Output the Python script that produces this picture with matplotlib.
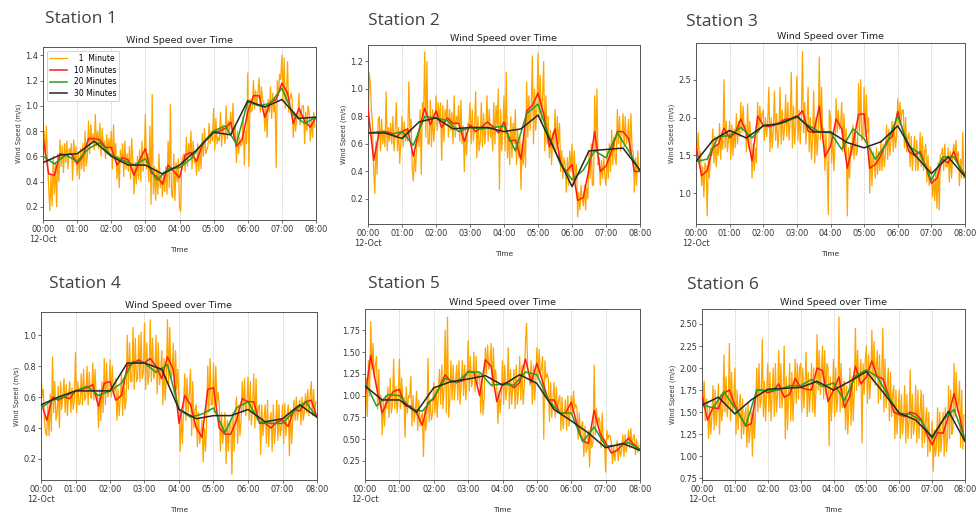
import numpy as np
import matplotlib
matplotlib.use("Agg")
import matplotlib.pyplot as plt
import matplotlib.dates as mdates
from matplotlib.ticker import MultipleLocator, FuncFormatter

# ---------------- data ----------------
stations = ["Station 1", "Station 2", "Station 3", "Station 4", "Station 5", "Station 6"]
series_labels = ["  1  Minute", "10 Minutes", "20 Minutes", "30 Minutes"]
start_time = "2022-10-12T00:00"
step_minutes = [2, 10, 20, 30]

s1_1min = [0.72,0.80,0.60,0.84,0.55, 0.35,0.17,0.45,0.21,0.60,
           0.30,0.55,0.20,0.62,0.40, 0.73,0.52,0.68,0.47,0.70,
           0.55,0.72,0.50,0.66,0.62, 0.70,0.41,0.73,0.55,0.68,
           0.45,0.63,0.42,0.66,0.50, 0.70,0.48,0.80,0.52,0.60,
           0.88,0.62,0.85,0.70,0.78, 0.65,0.93,0.68,0.80,0.66,
           0.86,0.60,0.82,0.66,0.72, 0.58,0.77,0.62,0.74,0.64,
           0.80,0.50,0.85,0.58,0.70, 0.42,0.60,0.35,0.65,0.55,
           0.70,0.44,0.72,0.50,0.62, 0.48,0.68,0.42,0.74,0.55,
           0.30,0.55,0.38,0.60,0.42, 0.65,0.40,0.72,0.48,0.58,
           0.93,0.50,0.62,0.40,0.84, 0.22,1.09,0.30,0.52,0.25,
           0.50,0.30,0.62,0.35,0.45, 0.28,0.48,0.32,0.52,0.30,
           0.72,0.35,1.01,0.30,0.27, 0.62,0.25,0.55,0.40,0.58,
           0.20,0.16,0.55,0.60,0.62, 0.48,0.75,0.52,0.70,0.60,
           0.80,0.50,0.72,0.55,0.58, 0.45,0.70,0.48,0.66,0.50,
           0.78,0.60,0.82,0.62,0.65, 0.68,0.86,0.70,0.80,0.72,
           0.98,0.65,0.90,0.70,0.75, 0.72,0.95,0.68,0.85,0.78,
           0.70,1.00,0.74,0.88,0.80, 0.95,0.78,1.02,0.75,0.85,
           0.55,0.80,0.62,0.75,0.68, 0.70,0.92,0.53,0.80,0.70,
           1.26,0.52,1.05,0.95,0.97, 1.20,0.98,1.12,1.00,1.10,
           1.22,0.95,1.15,1.05,1.03, 0.80,1.00,0.75,1.05,0.95,
           1.15,0.90,1.10,0.95,1.05, 0.51,1.20,1.08,1.25,1.21,
           1.40,1.05,1.38,0.98,1.09, 1.35,0.95,1.05,1.10,1.05,
           0.75,0.95,0.80,0.90,0.90, 1.10,0.85,0.95,1.00,1.00,
           0.70,0.95,0.80,1.00,0.95, 0.72,0.90,0.75,0.95,0.83]
s1_10min = [0.75,0.46,0.45,0.62,0.61,0.62, 0.54,0.60,0.74,0.74,0.73,0.67,
            0.67,0.53,0.59,0.57,0.45,0.57, 0.66,0.47,0.44,0.38,0.53,0.48,
            0.43,0.61,0.63,0.56,0.69,0.75, 0.79,0.80,0.82,0.87,0.68,0.73,
            0.95,1.08,1.08,0.91,1.03,1.05, 1.18,1.10,0.86,0.98,0.88,0.83, 0.91]
s1_20min = [0.60,0.54,0.61, 0.56,0.66,0.71, 0.61,0.57,0.53, 0.58,0.41,0.50,
            0.51,0.58,0.70, 0.80,0.84,0.70, 1.03,1.00,1.02, 1.14,0.93,0.86, 0.91]
s1_30min = [0.55,0.61, 0.62,0.72, 0.60,0.53, 0.53,0.46, 0.53,0.65,
            0.79,0.77, 1.04,0.99, 1.05,0.90, 0.91]

s2_1min = [0.55,1.12,1.05,0.85,0.75, 0.40,0.24,0.62,0.38,0.78,
           0.80,0.55,0.78,0.60,0.70, 0.58,0.98,0.55,0.72,0.62,
           0.75,0.60,0.80,0.55,0.70, 0.90,0.55,0.72,0.46,0.62,
           0.80,0.58,0.76,0.62,0.70, 0.62,1.05,0.68,0.78,0.42,
           0.33,0.55,0.40,0.60,0.68, 0.58,0.85,0.38,0.90,0.80,
           1.27,0.65,1.20,0.60,0.60, 0.92,0.58,0.85,0.62,0.73,
           0.95,0.70,0.90,0.75,0.90, 0.48,0.88,0.62,0.85,0.77,
           0.92,0.65,0.85,0.70,0.83, 0.60,0.95,0.65,0.80,0.75,
           0.88,0.62,0.92,0.60,0.73, 0.40,0.70,0.52,0.75,0.73,
           0.90,0.60,0.85,0.62,0.73, 0.98,0.50,0.80,0.55,0.62,
           0.90,0.58,0.82,0.60,0.70, 0.95,0.62,0.85,0.65,0.73,
           0.55,0.90,0.60,0.88,0.72, 1.00,0.27,0.85,0.55,0.73,
           0.95,0.55,1.12,0.50,0.68, 0.45,0.80,0.50,0.75,0.60,
           0.85,0.45,0.70,0.50,0.65, 0.27,0.60,0.45,0.70,0.43,
           1.05,0.65,0.95,0.70,0.85, 1.24,0.60,1.00,0.70,0.86,
           1.26,0.80,1.10,0.75,0.94, 1.20,0.55,0.95,0.60,0.80,
           0.50,0.70,0.45,0.68,0.57, 0.85,0.55,0.80,0.60,0.75,
           0.40,0.55,0.35,0.50,0.45, 0.25,0.50,0.30,0.55,0.40,
           0.60,0.30,0.55,0.35,0.45, 0.07,0.25,0.12,0.30,0.21,
           0.15,0.30,0.12,0.28,0.20, 0.55,0.35,0.60,0.30,0.30,
           0.95,0.55,1.00,0.45,0.50, 0.30,0.48,0.35,0.50,0.37,
           0.30,0.55,0.35,0.60,0.40, 0.70,0.45,0.65,0.50,0.45,
           0.85,0.60,0.80,0.55,0.65, 0.82,0.58,0.80,0.60,0.65,
           0.78,0.50,0.82,0.55,0.55, 0.25,0.50,0.30,0.55,0.40]
s2_10min = [0.86,0.48,0.69,0.69,0.68,0.65, 0.69,0.71,0.51,0.70,0.86,0.74,
            0.84,0.72,0.79,0.75,0.75,0.62, 0.74,0.69,0.72,0.76,0.73,0.68,
            0.76,0.62,0.63,0.49,0.84,0.88, 0.97,0.82,0.58,0.71,0.45,0.40,
            0.45,0.19,0.21,0.42,0.69,0.40, 0.44,0.55,0.69,0.69,0.64,0.40, 0.40]
s2_20min = [0.68,0.69,0.67, 0.69,0.59,0.80, 0.79,0.77,0.69, 0.72,0.71,0.72,
            0.73,0.55,0.82, 0.89,0.65,0.45, 0.34,0.41,0.55, 0.50,0.68,0.55, 0.40]
s2_30min = [0.68,0.68, 0.64,0.76, 0.79,0.71, 0.72,0.72, 0.69,0.71,
            0.81,0.55, 0.29,0.55, 0.56,0.57, 0.41]

s3_1min = [1.85,1.50,1.80,1.40,1.55, 1.10,1.35,0.95,1.40,1.35,
           0.70,1.50,1.20,1.60,1.50, 1.85,1.40,1.75,1.35,1.65,
           1.50,1.92,1.45,1.80,1.58, 2.50,1.60,1.95,1.55,1.70,
           1.95,1.45,1.90,1.50,1.85, 1.60,2.05,1.65,1.95,1.75,
           2.20,1.80,2.15,1.85,1.90, 1.55,2.18,1.60,1.95,1.72,
           1.20,1.65,1.30,1.60,1.40, 2.20,1.80,2.15,1.90,2.05,
           2.10,1.70,2.00,1.75,1.95, 2.40,1.55,2.00,1.60,1.85,
           2.35,1.70,2.05,1.60,1.80, 2.40,1.65,2.10,1.70,1.85,
           2.30,1.75,2.20,1.70,1.95, 2.60,1.60,2.15,1.65,1.90,
           2.55,1.70,2.10,1.65,2.00, 2.87,1.80,2.20,1.65,1.95,
           2.40,1.55,2.00,1.45,1.70, 2.35,1.40,2.00,1.50,1.75,
           2.80,1.70,2.40,1.80,1.85, 1.30,1.80,1.40,0.72,2.10,
           2.00,1.40,1.80,1.30,1.60, 2.25,1.80,2.10,1.85,1.90,
           2.20,1.55,2.05,1.60,1.85, 0.70,1.60,1.20,1.65,1.50,
           1.90,1.45,1.85,1.50,1.55, 2.45,1.80,2.50,1.70,1.75,
           2.40,1.75,2.30,1.80,2.00, 1.00,1.60,1.10,1.55,1.40,
           1.20,1.60,1.25,1.55,1.30, 1.70,1.30,1.65,1.35,1.50,
           1.90,1.45,1.85,1.50,1.70, 1.95,1.55,1.90,1.60,1.75,
           2.25,1.90,2.20,1.95,2.10, 2.10,1.60,2.00,1.55,1.75,
           1.80,1.35,1.75,1.30,1.55, 1.75,1.30,1.70,1.30,1.45,
           1.80,1.35,1.75,1.30,1.55, 1.65,1.15,1.50,1.10,1.35,
           1.30,0.95,1.20,0.90,1.30, 0.80,1.40,0.78,1.50,1.52,
           1.60,1.30,1.65,1.35,1.35, 1.60,1.15,1.55,1.20,1.50,
           1.65,1.45,1.70,1.40,1.55, 1.10,1.45,1.20,1.80,1.20]
s3_10min = [1.62,1.23,1.30,1.60,1.65,1.86, 1.73,1.80,1.98,1.80,1.43,2.02,
            1.90,1.88,1.90,1.94,1.98,1.98, 2.00,2.09,1.82,1.80,2.15,1.48,
            1.62,1.98,1.85,1.33,1.65,2.04, 2.05,1.33,1.38,1.50,1.68,1.75,
            2.08,1.80,1.55,1.50,1.55,1.35, 1.13,1.20,1.45,1.40,1.55,1.35, 1.25]
s3_20min = [1.42,1.45,1.75, 1.76,1.87,1.73, 1.90,1.91,1.94, 2.01,1.90,1.81,
            1.80,1.58,1.85, 1.72,1.45,1.65, 2.02,1.62,1.52, 1.17,1.48,1.48, 1.22]
s3_30min = [1.42,1.70, 1.83,1.73, 1.89,1.92, 2.02,1.81, 1.81,1.67,
            1.60,1.68, 1.89,1.51, 1.26,1.48, 1.22]

s4_1min = [0.78,0.60,0.65,0.45,0.37, 0.35,0.55,0.35,0.62,0.38,
           0.86,0.50,0.70,0.45,0.50, 0.67,0.40,0.70,0.52,0.61,
           0.72,0.50,0.68,0.48,0.62, 0.70,0.50,0.66,0.52,0.58,
           0.89,0.50,0.70,0.55,0.56, 0.75,0.55,0.78,0.58,0.60,
           0.80,0.55,0.76,0.60,0.59, 0.82,0.58,0.78,0.60,0.62,
           0.40,0.65,0.45,0.70,0.50, 0.85,0.55,0.82,0.60,0.63,
           0.84,0.60,0.80,0.62,0.64, 0.72,0.45,0.65,0.48,0.60,
           0.75,0.48,0.72,0.52,0.58, 1.00,0.65,0.95,0.70,0.70,
           1.05,0.65,0.98,0.70,0.72, 1.00,0.70,1.02,0.72,0.76,
           1.08,0.65,0.95,0.68,0.74, 1.10,0.70,0.98,0.72,0.75,
           1.00,0.62,0.95,0.68,0.75, 0.90,0.55,0.85,0.58,0.72,
           1.10,0.68,1.05,0.72,0.75, 0.95,0.62,0.90,0.65,0.78,
           0.55,0.25,0.50,0.30,0.55, 0.75,0.45,0.72,0.50,0.63,
           0.78,0.35,0.70,0.40,0.52, 0.55,0.28,0.50,0.30,0.37,
           0.45,0.18,0.40,0.25,0.42, 0.80,0.50,0.85,0.55,0.55,
           0.82,0.50,0.80,0.55,0.63, 0.55,0.25,0.50,0.30,0.40,
           0.50,0.17,0.45,0.25,0.43, 0.45,0.10,0.50,0.25,0.50,
           0.60,0.30,0.55,0.35,0.45, 0.70,0.50,0.72,0.48,0.55,
           0.73,0.45,0.70,0.42,0.55, 0.75,0.40,0.72,0.45,0.53,
           0.55,0.23,0.55,0.35,0.47, 0.55,0.30,0.58,0.28,0.44,
           0.50,0.25,0.55,0.30,0.40, 0.58,0.32,0.55,0.35,0.40,
           0.55,0.30,0.56,0.35,0.49, 0.55,0.22,0.52,0.30,0.46,
           0.58,0.45,0.60,0.45,0.52, 0.58,0.42,0.60,0.45,0.50,
           0.62,0.50,0.65,0.48,0.60, 0.70,0.48,0.65,0.50,0.57]
s4_10min = [0.57,0.45,0.60,0.58,0.60,0.59, 0.64,0.65,0.66,0.68,0.54,0.69,
            0.70,0.58,0.61,0.80,0.82,0.84, 0.82,0.85,0.80,0.72,0.86,0.78,
            0.43,0.61,0.55,0.40,0.34,0.65, 0.66,0.40,0.36,0.36,0.45,0.59,
            0.57,0.57,0.43,0.43,0.40,0.44, 0.45,0.41,0.52,0.51,0.57,0.58, 0.47]
s4_20min = [0.53,0.58,0.60, 0.64,0.67,0.61, 0.64,0.69,0.83, 0.82,0.76,0.81,
            0.52,0.47,0.49, 0.53,0.37,0.53, 0.57,0.44,0.43, 0.43,0.51,0.57, 0.47]
s4_30min = [0.55,0.60, 0.64,0.64, 0.64,0.82, 0.82,0.78, 0.52,0.46,
            0.48,0.48, 0.52,0.44, 0.46,0.55, 0.47]

s5_1min = [0.55,1.20,0.76,1.40,0.99, 1.85,1.30,1.60,1.20,1.35,
           1.45,0.85,1.30,0.90,1.00, 0.55,0.95,0.65,1.00,0.85,
           1.10,0.75,1.20,0.80,0.90, 1.42,0.85,1.10,0.80,0.98,
           1.42,0.85,1.20,0.90,0.98, 0.52,1.10,0.80,1.00,0.98,
           1.22,0.65,1.00,0.70,0.83, 1.05,0.60,0.95,0.65,0.75,
           0.80,0.30,0.85,0.60,0.75, 1.43,0.70,0.95,0.72,0.80,
           1.15,0.80,1.10,0.75,1.00, 1.30,0.90,1.35,0.85,1.10,
           1.75,0.80,1.90,0.75,0.95, 1.40,0.95,1.35,0.95,1.15,
           1.35,0.95,1.40,0.90,1.15, 1.40,1.00,1.35,0.95,1.15,
           1.63,1.05,1.45,1.10,1.17, 1.50,1.05,1.45,1.10,1.25,
           1.25,0.80,1.20,0.78,0.97, 1.55,1.25,1.58,1.30,1.37,
           1.60,1.10,1.55,1.15,1.30, 1.10,0.68,1.05,0.80,1.02,
           1.40,0.90,1.35,0.95,1.10, 1.55,0.85,1.30,0.90,1.10,
           1.30,0.85,1.35,0.90,1.05, 1.45,0.95,1.35,0.90,1.10,
           1.60,1.83,1.30,1.25,1.12, 1.40,0.90,1.35,0.95,1.15,
           1.55,1.20,1.53,1.25,1.32, 1.45,0.50,1.40,1.20,1.25,
           1.20,0.70,1.15,0.75,0.95, 1.15,0.75,1.10,0.80,0.95,
           1.00,0.60,0.98,0.62,0.80, 0.95,0.60,1.00,0.65,0.80,
           1.00,0.80,1.05,0.85,0.90, 0.85,0.50,0.80,0.55,0.65,
           0.70,0.30,0.65,0.35,0.40, 0.60,0.18,0.60,0.40,0.47,
           1.35,0.55,0.85,0.65,0.75, 0.70,0.40,0.80,0.45,0.50,
           0.12,0.60,0.50,0.55,0.53, 0.45,0.22,0.42,0.25,0.36,
           0.48,0.25,0.45,0.30,0.37, 0.55,0.30,0.55,0.35,0.45,
           0.60,0.40,0.62,0.42,0.51, 0.55,0.32,0.50,0.35,0.43]
s5_10min = [0.98,1.46,1.10,0.80,0.95,1.05, 1.07,0.88,0.88,0.80,0.66,0.92,
            0.96,1.10,1.24,1.16,1.15,1.17, 1.28,1.27,1.00,1.41,1.34,0.93,
            1.14,1.14,1.09,1.15,1.42,1.15, 1.37,1.16,0.95,0.95,0.80,0.80,
            0.92,0.67,0.48,0.45,0.83,0.57, 0.46,0.34,0.37,0.44,0.51,0.43, 0.38]
s5_20min = [1.16,0.88,1.01, 1.00,0.85,0.82, 0.98,1.20,1.15, 1.27,1.27,1.12,
            1.13,1.12,1.27, 1.24,0.95,0.80, 0.80,0.47,0.64, 0.42,0.43,0.46, 0.38]
s5_30min = [1.11,0.95, 0.95,0.81, 1.09,1.16, 1.19,1.23, 1.12,1.24,
            1.14,0.84, 0.71,0.57, 0.40,0.45, 0.37]

s6_1min = [2.05,1.55,1.85,1.40,1.65, 1.60,1.20,1.55,1.25,1.45,
           1.80,1.30,1.75,1.35,1.55, 1.82,1.25,1.70,1.40,1.53,
           2.15,1.50,1.90,1.45,1.60, 2.28,1.40,1.95,1.50,1.62,
           2.00,1.25,1.75,1.30,1.60, 1.70,1.20,1.65,1.25,1.45,
           1.55,1.10,1.60,1.15,1.30, 1.50,1.00,1.55,1.20,1.60,
           2.00,1.50,2.05,1.55,1.65, 2.33,1.45,1.85,1.40,1.72,
           2.05,1.50,1.95,1.40,1.70, 2.00,1.45,2.05,1.50,1.70,
           2.20,1.55,2.05,1.55,1.75, 2.25,1.20,1.90,1.30,1.70,
           2.05,1.40,1.95,1.40,1.70, 2.10,1.60,2.05,1.65,2.00,
           2.05,1.50,2.00,1.55,1.80, 2.18,1.45,1.95,1.50,1.72,
           2.05,1.50,2.00,1.45,1.75, 2.38,1.75,2.20,1.70,1.97,
           2.25,1.65,2.20,1.70,2.05, 2.00,1.12,1.90,1.40,1.68,
           2.10,1.45,2.00,1.50,1.70, 2.58,1.50,2.05,1.55,1.82,
           1.85,1.30,1.80,1.25,1.55, 2.00,1.35,1.90,1.40,1.75,
           2.45,1.75,2.20,1.80,1.90, 2.10,1.15,2.05,1.70,2.10,
           2.25,1.60,2.15,1.65,1.85, 2.43,1.85,2.30,1.80,2.02,
           2.20,1.60,2.15,1.65,1.90, 2.45,1.50,2.10,1.55,1.80,
           2.00,1.40,1.95,1.45,1.70, 1.80,1.20,1.75,1.25,1.50,
           1.75,1.20,1.70,1.25,1.45, 1.80,1.15,1.70,1.20,1.40,
           1.98,1.20,1.70,1.25,1.37, 1.80,1.15,1.75,1.20,1.50,
           1.75,1.10,1.70,1.15,1.40, 1.55,1.00,1.50,1.05,1.15,
           1.40,0.83,1.30,1.00,1.12, 1.55,1.00,1.50,1.05,1.25,
           1.50,1.00,1.55,1.05,1.20, 1.80,1.20,1.75,1.25,1.30,
           2.05,1.45,1.95,1.50,1.60, 1.85,1.10,1.75,1.08,1.47]
s6_10min = [1.70,1.41,1.55,1.54,1.72,1.75, 1.58,1.45,1.34,1.37,1.75,1.75,
            1.72,1.74,1.82,1.67,1.70,1.88, 1.78,1.76,1.75,2.00,1.97,1.62,
            1.75,1.90,1.55,1.68,2.02,1.82, 1.90,2.08,1.90,1.88,1.70,1.50,
            1.47,1.45,1.50,1.48,1.42,1.25, 1.13,1.27,1.26,1.46,1.71,1.45, 1.17]
s6_20min = [1.58,1.55,1.73, 1.55,1.35,1.75, 1.74,1.75,1.80, 1.80,1.87,1.79,
            1.83,1.63,1.91, 1.98,1.90,1.68, 1.48,1.48,1.40, 1.20,1.41,1.53, 1.19]
s6_30min = [1.58,1.67, 1.48,1.64, 1.76,1.77, 1.78,1.85, 1.75,1.85,
            1.96,1.73, 1.49,1.41, 1.22,1.51, 1.17]

station_series = [
    (s1_1min, s1_10min, s1_20min, s1_30min),
    (s2_1min, s2_10min, s2_20min, s2_30min),
    (s3_1min, s3_10min, s3_20min, s3_30min),
    (s4_1min, s4_10min, s4_20min, s4_30min),
    (s5_1min, s5_10min, s5_20min, s5_30min),
    (s6_1min, s6_10min, s6_20min, s6_30min),
]

# ---------------- style / layout ----------------
W, H = 976, 518
colors = ["#ffa500", "#ff1a1a", "#22a022", "#262626"]
widths = [0.9, 1.1, 1.1, 1.1]
# axes boxes in pixels: left, top, right, bottom
boxes = [(43, 47, 316, 220), (368, 45, 640, 224), (696, 43, 965, 224),
         (41, 312, 317, 480), (365, 309, 640, 480), (702, 309, 965, 480)]
ylims = [(0.095, 1.466), (0.018, 1.32), (0.594, 2.985),
         (0.064, 1.15), (0.03, 1.995), (0.73, 2.67)]
ysteps = [0.2, 0.2, 0.5, 0.2, 0.25, 0.25]
station_pos = [(45, 23), (368, 25), (686, 26), (49, 288), (368, 288), (687, 289)]
show_ylabel = [True, True, True, True, False, True]

t0 = np.datetime64(start_time)


def times(n, step):
    return t0 + np.arange(n) * np.timedelta64(step, "m")


def fmt_time(x, pos):
    d = mdates.num2date(x)
    s = d.strftime("%H:%M")
    if pos == 0:
        s += "\n" + d.strftime("%d-%b")
    return s


fig = plt.figure(figsize=(W / 100, H / 100), dpi=100)
fig.patch.set_facecolor("white")

for i, name in enumerate(stations):
    l, t, r, b = boxes[i]
    ax = fig.add_axes([l / W, 1 - b / H, (r - l) / W, (b - t) / H])
    for k, vals in enumerate(station_series[i]):
        ax.plot(times(len(vals), step_minutes[k]), vals, color=colors[k],
                lw=widths[k], label=series_labels[k], zorder=2 + k)
    ax.set_xlim(t0, t0 + np.timedelta64(8 * 60, "m"))
    ax.set_ylim(*ylims[i])
    ax.yaxis.set_major_locator(MultipleLocator(ysteps[i]))
    ax.xaxis.set_major_locator(mdates.HourLocator())
    ax.xaxis.set_major_formatter(FuncFormatter(fmt_time))
    ax.grid(axis="x", linestyle=(0, (1, 1.5)), color="#b5b5b5", lw=0.6)
    ax.tick_params(axis="x", labelsize=5.9, length=2, width=0.5, pad=1.5, colors="#333333")
    ax.tick_params(axis="y", labelsize=5.9, length=2, width=0.5, pad=1.5, colors="#333333")
    for sp in ax.spines.values():
        sp.set_color("#555555")
        sp.set_linewidth(0.7)
    ax.set_title("Wind Speed over Time", fontsize=6.8, pad=3, color="#222222")
    ax.set_xlabel("Time", fontsize=5.4, labelpad=2, color="#333333")
    if show_ylabel[i]:
        ax.set_ylabel("Wind Speed (m/s)", fontsize=4.8, labelpad=2, color="#333333")
    if i == 0:
        leg = ax.legend(loc="upper left", fontsize=5.5, handlelength=2.3,
                        borderpad=0.4, labelspacing=0.35, framealpha=1,
                        edgecolor="#cccccc")
        leg.get_frame().set_linewidth(0.6)
    sx, sy = station_pos[i]
    fig.text(sx / W, 1 - sy / H, name, fontsize=12.5, family="Open Sans",
             color="#404040", ha="left", va="baseline")

fig.savefig("out.png", dpi=100)
